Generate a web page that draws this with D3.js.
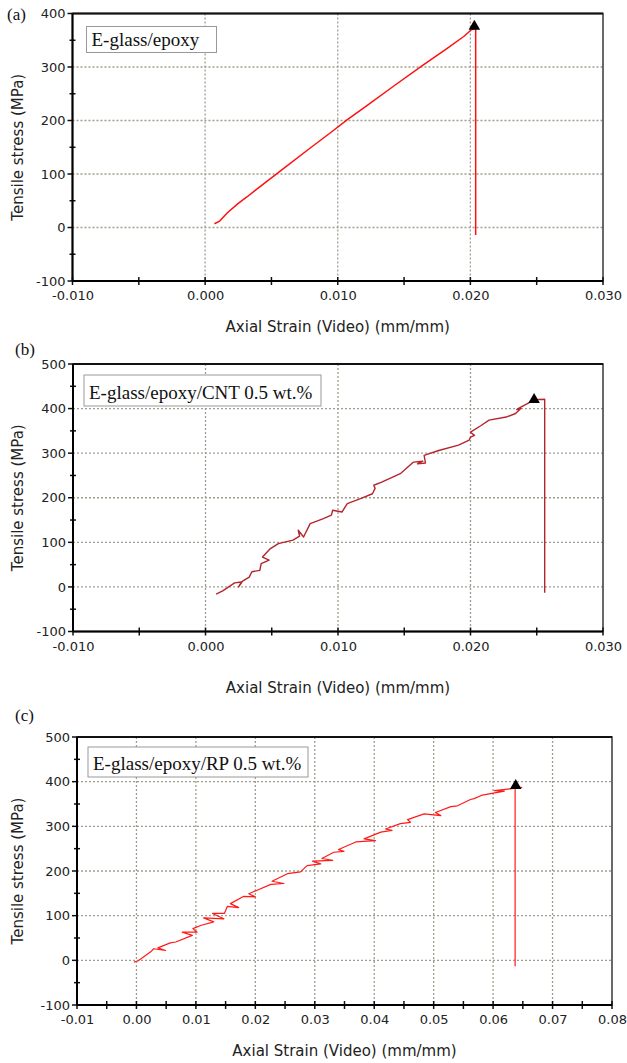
<!DOCTYPE html>
<html>
<head>
<meta charset="utf-8">
<script src="https://cdn.jsdelivr.net/npm/d3@7"></script>
<style>
body { margin: 0; background: #fff; }
svg { display: block; }
</style>
</head>
<body>
<div id="fig"></div>
<script>
// (a) E-glass/epoxy
var strainA = [0.0007, 0.0011, 0.0017, 0.0025, 0.0032, 0.0038, 0.0049, 0.0060, 0.0080, 0.0095, 0.0107, 0.0122, 0.0142, 0.0164, 0.0182, 0.0195, 0.0201, 0.0204, 0.0204];
var stressA = [7, 12, 28, 45, 58, 70, 91, 112, 150, 178, 201, 228, 264, 303, 334, 357, 370, 372, -14];
var peakA = [0.0203, 376];

// (b) E-glass/epoxy/CNT 0.5 wt.%
var strainB = [0.0008, 0.0013, 0.0022, 0.0027, 0.0025, 0.0028, 0.0033, 0.0035, 0.0041, 0.0042, 0.0048, 0.0043, 0.0049, 0.0055, 0.0066, 0.0071, 0.0070, 0.0074, 0.0079, 0.0089, 0.0095, 0.0096, 0.0103, 0.0107, 0.0117, 0.0126, 0.0128, 0.0127, 0.0133, 0.0147, 0.0157, 0.0164, 0.0160, 0.0166, 0.0165, 0.0176, 0.0191, 0.0199, 0.0200, 0.0203, 0.0200, 0.0208, 0.0214, 0.0227, 0.0234, 0.0238, 0.0235, 0.0239, 0.0244, 0.0248, 0.0256, 0.0256];
var stressB = [-16, -9, 9, 11, 0, 13, 22, 34, 37, 52, 60, 67, 86, 97, 105, 114, 127, 112, 142, 153, 161, 172, 168, 187, 198, 209, 221, 228, 235, 254, 280, 282, 276, 278, 295, 306, 318, 329, 336, 340, 347, 362, 374, 381, 389, 400, 398, 405, 413, 420, 421, -13];
var peakB = [0.0248, 420];

// (c) E-glass/epoxy/RP 0.5 wt.%
var strainC = [-0.0004, 0.0003, 0.0024, 0.0029, 0.0049, 0.0036, 0.0057, 0.0066, 0.0094, 0.0077, 0.0102, 0.0095, 0.0108, 0.0130, 0.0113, 0.0147, 0.0128, 0.0148, 0.0153, 0.0172, 0.0158, 0.0180, 0.0200, 0.0189, 0.0203, 0.0226, 0.0248, 0.0228, 0.0254, 0.0276, 0.0287, 0.0310, 0.0296, 0.0330, 0.0312, 0.0332, 0.0349, 0.0340, 0.0369, 0.0402, 0.0383, 0.0411, 0.0430, 0.0419, 0.0444, 0.0461, 0.0456, 0.0484, 0.0512, 0.0503, 0.0529, 0.0540, 0.0562, 0.0568, 0.0582, 0.0619, 0.0602, 0.0635, 0.0648, 0.0637, 0.0637];
var stressC = [-4, -1, 19, 26, 22, 28, 39, 41, 56, 63, 63, 71, 78, 86, 95, 93, 105, 105, 121, 118, 127, 143, 142, 149, 157, 170, 172, 177, 194, 198, 212, 216, 222, 224, 228, 242, 244, 248, 265, 268, 272, 287, 291, 294, 306, 309, 315, 328, 324, 331, 344, 346, 360, 362, 370, 379, 380, 385, 387, 386, -13];
var peakC = [0.0638, 391];

// ticks
var xTicksAB = [-0.010, 0.000, 0.010, 0.020, 0.030];
var xMinorAB = [-0.005, 0.005, 0.015, 0.025];
var xTicksC = [-0.01, 0.00, 0.01, 0.02, 0.03, 0.04, 0.05, 0.06, 0.07, 0.08];
var xMinorC = [-0.005, 0.005, 0.015, 0.025, 0.035, 0.045, 0.055, 0.065, 0.075];
var yTicksA = [-100, 0, 100, 200, 300, 400];
var yTicksBC = [-100, 0, 100, 200, 300, 400, 500];

var sans = "'DejaVu Sans', Verdana, sans-serif";
var serif = "'Liberation Serif', 'Times New Roman', serif";

var svg = d3.select("#fig")
    .append("svg")
    .attr("width", 627)
    .attr("height", 1063);

function drawPanel(p) {
    var w = p.right - p.left,
        h = p.bottom - p.top;
    var g = svg.append("g")
        .attr("transform", "translate(" + p.left + "," + p.top + ")");

    var x = d3.scaleLinear().domain(p.xDomain).range([0, w]);
    var y = d3.scaleLinear().domain(p.yDomain).range([h, 0]);

    // dotted grid
    g.selectAll(".vgrid")
        .data(p.xTicks.slice(1, -1))
        .enter().append("line")
        .attr("x1", function(d) { return x(d); })
        .attr("x2", function(d) { return x(d); })
        .attr("y1", 0).attr("y2", h)
        .attr("stroke", "#a19d8e")
        .attr("stroke-width", 1.3)
        .attr("stroke-dasharray", "2,2");
    g.selectAll(".hgrid")
        .data(p.yTicks.slice(1, -1))
        .enter().append("line")
        .attr("y1", function(d) { return y(d); })
        .attr("y2", function(d) { return y(d); })
        .attr("x1", 0).attr("x2", w)
        .attr("stroke", "#a19d8e")
        .attr("stroke-width", 1.3)
        .attr("stroke-dasharray", "2,2");

    // frame
    g.append("rect")
        .attr("width", w).attr("height", h)
        .attr("fill", "none")
        .attr("stroke", "#444")
        .attr("stroke-width", 1.6);
    g.append("line").attr("x1", 0).attr("x2", w).attr("y1", 0).attr("y2", 0)
        .attr("stroke", "#111").attr("stroke-width", 2);

    // x axis labels
    g.append("g")
        .attr("transform", "translate(0," + h + ")")
        .call(d3.axisBottom(x).tickValues(p.xTicks).tickSize(0).tickPadding(10)
            .tickFormat(function(d) { return d.toFixed(p.xDigits); }))
        .call(function(a) { a.select(".domain").remove(); })
        .selectAll("text")
            .style("font-family", sans)
            .style("font-size", "13px")
            .attr("fill", "#222");

    // y axis labels
    g.append("g")
        .call(d3.axisLeft(y).tickValues(p.yTicks).tickSize(0).tickPadding(7)
            .tickFormat(function(d) { return String(d); }))
        .call(function(a) { a.select(".domain").remove(); })
        .selectAll("text")
            .style("font-family", sans)
            .style("font-size", "13px")
            .attr("fill", "#222");

    // tick marks
    g.selectAll(".xtick")
        .data(p.xTicks.concat(p.xMinor))
        .enter().append("line")
        .attr("x1", function(d) { return x(d); })
        .attr("x2", function(d) { return x(d); })
        .attr("y1", h - 4).attr("y2", h + 4)
        .attr("stroke", "#111").attr("stroke-width", 1.5);
    g.selectAll(".ytick")
        .data(p.yTicks)
        .enter().append("line")
        .attr("y1", function(d) { return y(d); })
        .attr("y2", function(d) { return y(d); })
        .attr("x1", -5).attr("x2", 0)
        .attr("stroke", "#111").attr("stroke-width", 1.5);
    g.selectAll(".yminor")
        .data(p.yTicks.slice(0, -1).map(function(d) { return d + 50; }))
        .enter().append("line")
        .attr("y1", function(d) { return y(d); })
        .attr("y2", function(d) { return y(d); })
        .attr("x1", -3).attr("x2", 3)
        .attr("stroke", "#111").attr("stroke-width", 1.5);

    // left and bottom axis lines
    g.append("line").attr("x1", 0).attr("x2", 0).attr("y1", 0).attr("y2", h)
        .attr("stroke", "#000").attr("stroke-width", 2);
    g.append("line").attr("x1", 0).attr("x2", w).attr("y1", h).attr("y2", h)
        .attr("stroke", "#000").attr("stroke-width", 2);

    // curve
    var pts = p.strain.map(function(s, i) { return [s, p.stress[i]]; });
    g.append("path")
        .datum(pts)
        .attr("fill", "none")
        .attr("stroke", p.color)
        .attr("stroke-width", p.lineWidth)
        .attr("stroke-linejoin", "round")
        .attr("d", d3.line()
            .x(function(d) { return x(d[0]); })
            .y(function(d) { return y(d[1]); }));

    // failure marker
    g.append("path")
        .attr("d", d3.symbol().type(d3.symbolTriangle).size(58)())
        .attr("transform", "translate(" + x(p.peak[0]) + "," + y(p.peak[1]) + ")")
        .attr("fill", "#000");

    // legend box
    var lg = g.append("g").attr("transform", "translate(" + p.legend[0] + "," + p.legend[1] + ")");
    lg.append("rect")
        .attr("width", p.legend[2]).attr("height", p.legend[3])
        .attr("fill", "#fff").attr("stroke", "#999").attr("stroke-width", 1);
    lg.append("text")
        .attr("x", 5)
        .attr("y", p.legend[3] - 7)
        .style("font-family", serif)
        .style("font-size", "19px")
        .attr("fill", "#111")
        .text(p.name);

    // axis titles
    g.append("text")
        .attr("x", w / 2)
        .attr("y", h + p.xTitleGap)
        .attr("text-anchor", "middle")
        .style("font-family", sans)
        .style("font-size", "15px")
        .attr("fill", "#222")
        .text("Axial Strain (Video) (mm/mm)");
    g.append("text")
        .attr("transform", "rotate(-90)")
        .attr("x", -h / 2)
        .attr("y", 23 - p.left)
        .attr("text-anchor", "middle")
        .style("font-family", sans)
        .style("font-size", "15px")
        .attr("fill", "#222")
        .text("Tensile stress (MPa)");

    // panel label
    svg.append("text")
        .attr("x", p.tag[0])
        .attr("y", p.tag[1])
        .style("font-family", serif)
        .style("font-size", "17px")
        .attr("fill", "#111")
        .text(p.tagText);
}

drawPanel({
    left: 72.5, right: 603, top: 13.5, bottom: 281,
    xDomain: [-0.010, 0.030], yDomain: [-100, 400],
    xTicks: xTicksAB, xMinor: xMinorAB, yTicks: yTicksA, xDigits: 3,
    strain: strainA, stress: stressA, peak: peakA,
    color: "#ff1010", lineWidth: 1.5,
    name: "E-glass/epoxy", legend: [14, 13, 130, 26],
    xTitleGap: 51, tag: [7, 20], tagText: "(a)"
});

drawPanel({
    left: 73, right: 603, top: 364, bottom: 631.5,
    xDomain: [-0.010, 0.030], yDomain: [-100, 500],
    xTicks: xTicksAB, xMinor: xMinorAB, yTicks: yTicksBC, xDigits: 3,
    strain: strainB, stress: stressB, peak: peakB,
    color: "#b3262b", lineWidth: 1.4,
    name: "E-glass/epoxy/CNT 0.5 wt.%", legend: [11, 11, 237, 31],
    xTitleGap: 61, tag: [15, 355], tagText: "(b)"
});

drawPanel({
    left: 77, right: 612, top: 737, bottom: 1005,
    xDomain: [-0.01, 0.08], yDomain: [-100, 500],
    xTicks: xTicksC, xMinor: xMinorC, yTicks: yTicksBC, xDigits: 2,
    strain: strainC, stress: stressC, peak: peakC,
    color: "#ff1a1a", lineWidth: 1.2,
    name: "E-glass/epoxy/RP 0.5 wt.%", legend: [11, 10, 220, 30],
    xTitleGap: 51, tag: [15, 721], tagText: "(c)"
});
</script>
</body>
</html>
